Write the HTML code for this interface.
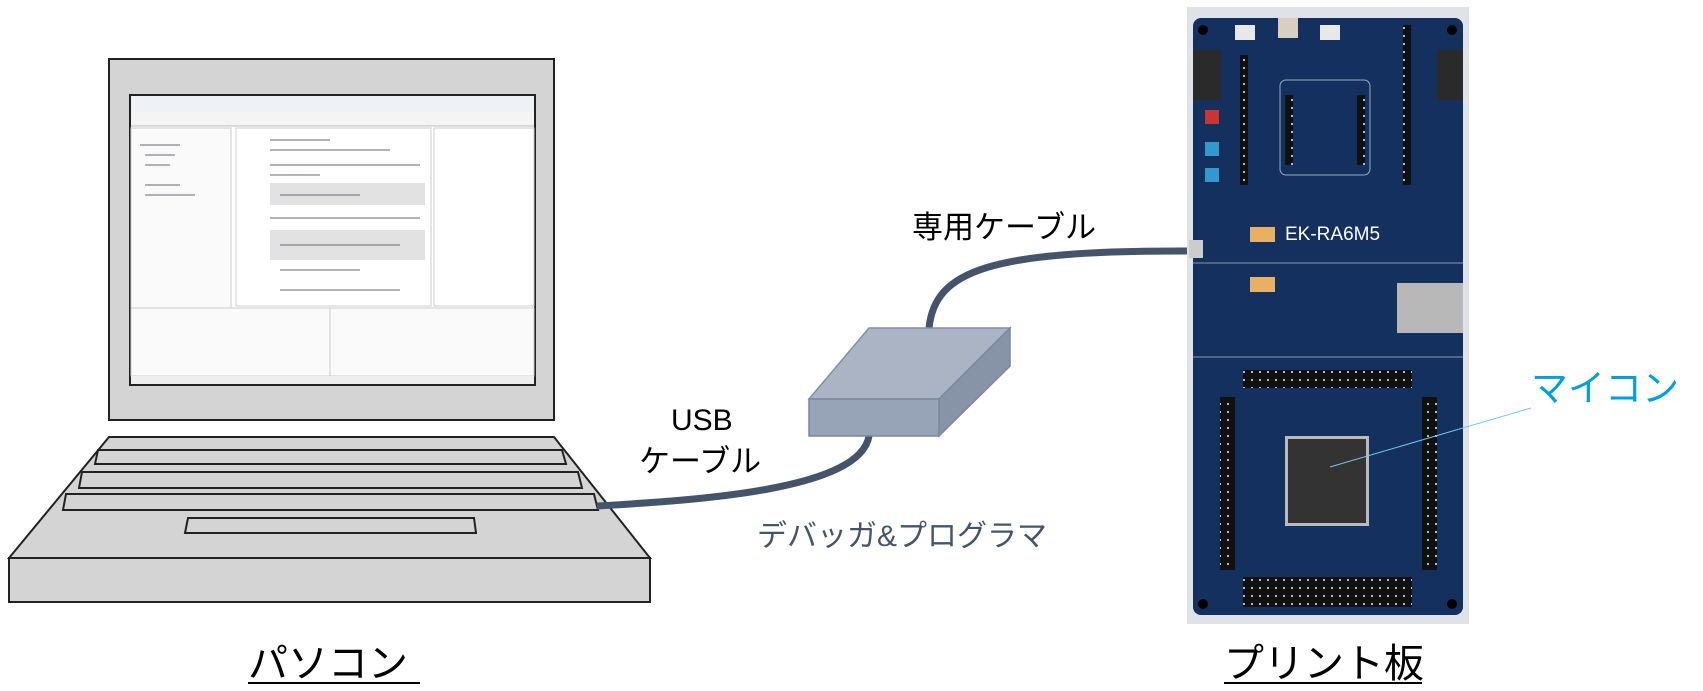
<!DOCTYPE html>
<html><head><meta charset="utf-8"><style>
html,body{margin:0;padding:0;background:#fff;width:1703px;height:691px;overflow:hidden}
svg{display:block}
text{font-family:"Liberation Sans","Noto Sans CJK JP",sans-serif}
</style></head><body>
<svg width="1703" height="691" viewBox="0 0 1703 691" xmlns="http://www.w3.org/2000/svg">
<defs>
<pattern id="pins" width="8" height="8" patternUnits="userSpaceOnUse"><rect width="8" height="8" fill="#111"/><rect x="3" y="3" width="2" height="2" fill="#bbb"/></pattern>
</defs>
<!-- Monitor -->
<rect x="109" y="59" width="445" height="361" fill="#d4d4d4" stroke="#222" stroke-width="2"/>
<rect x="130" y="95" width="405" height="290" fill="#fff" stroke="#222" stroke-width="2"/>
<rect x="131" y="96" width="403" height="16" fill="#eef1f5"/>
<rect x="131" y="112" width="403" height="14" fill="#f4f4f4"/>
<line x1="131" y1="126" x2="534" y2="126" stroke="#bbb"/>
<rect x="131" y="128" width="100" height="180" fill="#fafafa" stroke="#ccc"/>
<rect x="236" y="128" width="195" height="178" fill="#fff" stroke="#ccc"/>
<rect x="434" y="128" width="100" height="178" fill="#fff" stroke="#ccc"/>
<rect x="270" y="183" width="155" height="22" fill="#e2e2e2"/>
<rect x="270" y="230" width="155" height="30" fill="#e2e2e2"/>
<g stroke="#667" stroke-width="1">
<line x1="270" y1="140" x2="330" y2="140"/><line x1="270" y1="150" x2="390" y2="150"/><line x1="270" y1="165" x2="420" y2="165"/><line x1="270" y1="175" x2="320" y2="175"/><line x1="280" y1="195" x2="360" y2="195"/><line x1="270" y1="218" x2="420" y2="218"/><line x1="280" y1="245" x2="400" y2="245"/><line x1="280" y1="270" x2="360" y2="270"/><line x1="280" y1="290" x2="400" y2="290"/>
<line x1="140" y1="145" x2="180" y2="145"/><line x1="145" y1="155" x2="175" y2="155"/><line x1="145" y1="165" x2="170" y2="165"/><line x1="145" y1="185" x2="180" y2="185"/><line x1="145" y1="195" x2="195" y2="195"/>
</g>
<rect x="131" y="308" width="403" height="68" fill="#fafafa" stroke="#ccc"/>
<line x1="330" y1="308" x2="330" y2="376" stroke="#ccc"/>
<rect x="131" y="376" width="403" height="8" fill="#eee"/>
<!-- Keyboard -->
<polygon points="109,437 554,437 650,558 9,558" fill="#d4d4d4" stroke="#222" stroke-width="2"/>
<rect x="9" y="558" width="641" height="44" fill="#d4d4d4" stroke="#222" stroke-width="2"/>
<polygon points="98,450 562,450 566,464 95,464" fill="#d4d4d4" stroke="#222" stroke-width="2"/>
<polygon points="82,472 578,472 582,488 79,488" fill="#d4d4d4" stroke="#222" stroke-width="2"/>
<polygon points="66,494 594,494 598,510 63,510" fill="#d4d4d4" stroke="#222" stroke-width="2"/>
<polygon points="188,518 474,518 476,533 185,533" fill="#d4d4d4" stroke="#222" stroke-width="2"/>
<!-- Cables -->
<path d="M597,506 C700,500 860,490 869,436" fill="none" stroke="#44546a" stroke-width="7"/>
<path d="M929,328 C935,270 990,250 1195,251" fill="none" stroke="#44546a" stroke-width="7"/>
<!-- Debugger box -->
<polygon points="809,399 869,328 1010,328 939,399" fill="#aab4c4" stroke="#8190a6" stroke-width="1.5"/>
<polygon points="939,399 1010,328 1010,366 939,436" fill="#8793a6" stroke="#7b889c" stroke-width="1.5"/>
<rect x="809" y="399" width="130" height="37" fill="#97a3b6" stroke="#7b889c" stroke-width="1.5"/>
<!-- Board photo -->
<rect x="1187" y="7" width="282" height="617" fill="#dfe3e8"/>
<rect x="1193" y="18" width="270" height="597" rx="8" fill="#14305e"/>
<rect x="1193" y="50" width="28" height="50" fill="#2a2a2a"/>
<rect x="1437" y="50" width="26" height="50" fill="#2a2a2a"/>
<rect x="1235" y="25" width="20" height="15" fill="#e8e8e8"/><rect x="1278" y="18" width="20" height="20" fill="#d8cfc0"/><rect x="1320" y="25" width="20" height="15" fill="#e8e8e8"/>
<rect x="1240" y="55" width="8" height="130" fill="url(#pins)"/>
<rect x="1403" y="25" width="8" height="160" fill="url(#pins)"/>
<rect x="1280" y="80" width="90" height="95" rx="6" fill="none" stroke="#9ab" stroke-width="1"/>
<rect x="1285" y="95" width="8" height="70" fill="url(#pins)"/><rect x="1357" y="95" width="8" height="70" fill="url(#pins)"/>
<rect x="1205" y="110" width="14" height="14" fill="#c33"/><rect x="1205" y="142" width="14" height="14" fill="#39c"/><rect x="1205" y="168" width="14" height="14" fill="#39c"/>
<rect x="1250" y="227" width="25" height="15" fill="#e8b060"/><rect x="1250" y="277" width="25" height="15" fill="#e8b060"/>
<text x="1285" y="240" font-size="19" fill="#fff">EK-RA6M5</text>
<rect x="1189" y="240" width="14" height="18" fill="#ccc"/>
<rect x="1397" y="283" width="66" height="50" fill="#b8b8b8"/>
<line x1="1193" y1="263" x2="1463" y2="263" stroke="#8899aa"/>
<line x1="1193" y1="357" x2="1463" y2="357" stroke="#8899aa"/>
<rect x="1243" y="370" width="169" height="18" fill="url(#pins)"/>
<rect x="1220" y="397" width="15" height="173" fill="url(#pins)"/>
<rect x="1422" y="397" width="15" height="173" fill="url(#pins)"/>
<rect x="1243" y="577" width="169" height="30" fill="url(#pins)"/>
<rect x="1285" y="436" width="84" height="90" fill="#bbb"/>
<rect x="1288" y="439" width="78" height="84" fill="#333"/>
<circle cx="1203" cy="30" r="5" fill="#000"/><circle cx="1452" cy="30" r="5" fill="#000"/><circle cx="1203" cy="604" r="5" fill="#000"/><circle cx="1452" cy="604" r="5" fill="#000"/>
<!-- Leader -->
<line x1="1531" y1="408" x2="1330" y2="467" stroke="#6fc8e8" stroke-width="1"/>
<!-- Labels -->
<text x="912" y="238" font-size="31" fill="#000">専用ケーブル</text>
<text x="671" y="430" font-size="30" fill="#000">USB</text>
<text x="639" y="472" font-size="31" fill="#000">ケーブル</text>
<text x="757" y="546" font-size="30" fill="#44546a">デバッガ&amp;プログラマ</text>
<text x="1531" y="401" font-size="37" fill="#00a0e0">マイコン</text>
<text x="248" y="677" font-size="40" fill="#000">パソコン</text>
<line x1="248" y1="683" x2="420" y2="683" stroke="#000" stroke-width="2"/>
<text x="1224" y="677" font-size="40" fill="#000">プリント板</text>
<line x1="1224" y1="683" x2="1422" y2="683" stroke="#000" stroke-width="2"/>
</svg>
</body></html>
